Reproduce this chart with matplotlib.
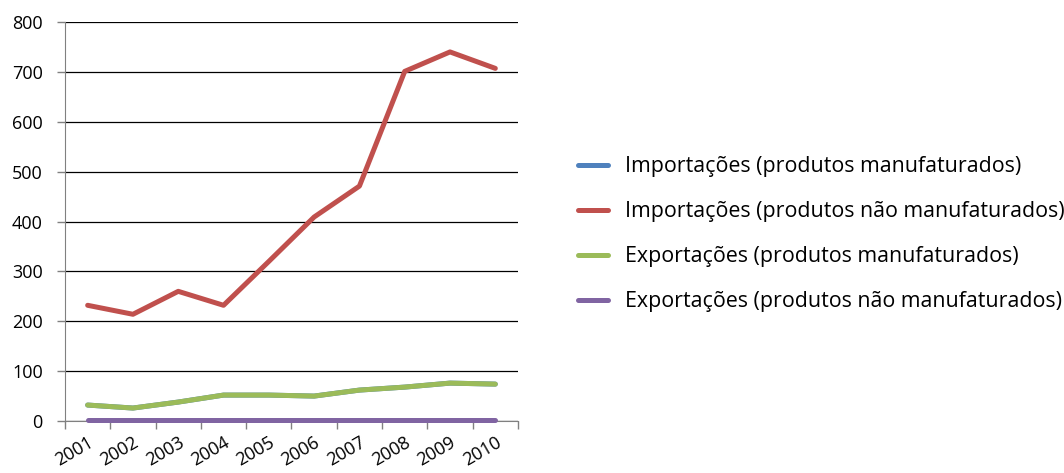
import matplotlib.pyplot as plt
import numpy as np

plt.rcParams['font.family'] = ['Open Sans', 'DejaVu Sans']

anos = ['2001', '2002', '2003', '2004', '2005', '2006', '2007', '2008', '2009', '2010']
imp_manuf = [32, 26, 38, 52, 52, 50, 62, 68, 76, 74]
imp_nao_manuf = [232, 214, 260, 232, 320, 409, 471, 701, 740, 707]
exp_manuf = [32, 26, 38, 52, 52, 50, 62, 68, 76, 74]
exp_nao_manuf = [2, 2, 2, 2, 2, 2, 2, 2, 2, 2]

series = [
    ('Importações (produtos manufaturados)', imp_manuf, '#4F81BD'),
    ('Importações (produtos não manufaturados)', imp_nao_manuf, '#C0504D'),
    ('Exportações (produtos manufaturados)', exp_manuf, '#9BBB59'),
    ('Exportações (produtos não manufaturados)', exp_nao_manuf, '#8064A2'),
]

fig = plt.figure(figsize=(10.64, 4.73), dpi=100)
ax = fig.add_axes([0.0611, 0.1099, 0.4257, 0.8436])

x = np.arange(len(anos))
for nome, vals, cor in series:
    ax.plot(x, vals, color=cor, lw=3.6, solid_capstyle='round', label=nome,
            zorder=3, clip_on=False)

ax.set_xlim(-0.5, len(anos) - 0.5)
ax.set_ylim(0, 800)
ax.set_yticks(range(0, 801, 100))
ax.yaxis.grid(True, color='black', lw=0.9)
ax.set_axisbelow(True)

ax.set_xticks(x)
ax.set_xticklabels(anos, rotation=30, ha='right', rotation_mode='anchor', fontsize=13)
ax.set_xticks(np.arange(-0.5, len(anos)), minor=True)
ax.tick_params(axis='x', which='major', length=0, pad=9)
ax.tick_params(axis='x', which='minor', length=6, color='#808080', width=1)
ax.tick_params(axis='y', length=6, color='#808080', width=1, labelsize=13, pad=10)

for s in ['top', 'right']:
    ax.spines[s].set_visible(False)
ax.spines['left'].set_color('#808080')
ax.spines['bottom'].set_color('#808080')

ax.legend(loc='center left', bbox_to_anchor=(1.09, 0.468), frameon=False,
          fontsize=15.4, handlelength=1.4, labelspacing=1.12, handletextpad=0.8)

fig.savefig('out.png', dpi=100)
